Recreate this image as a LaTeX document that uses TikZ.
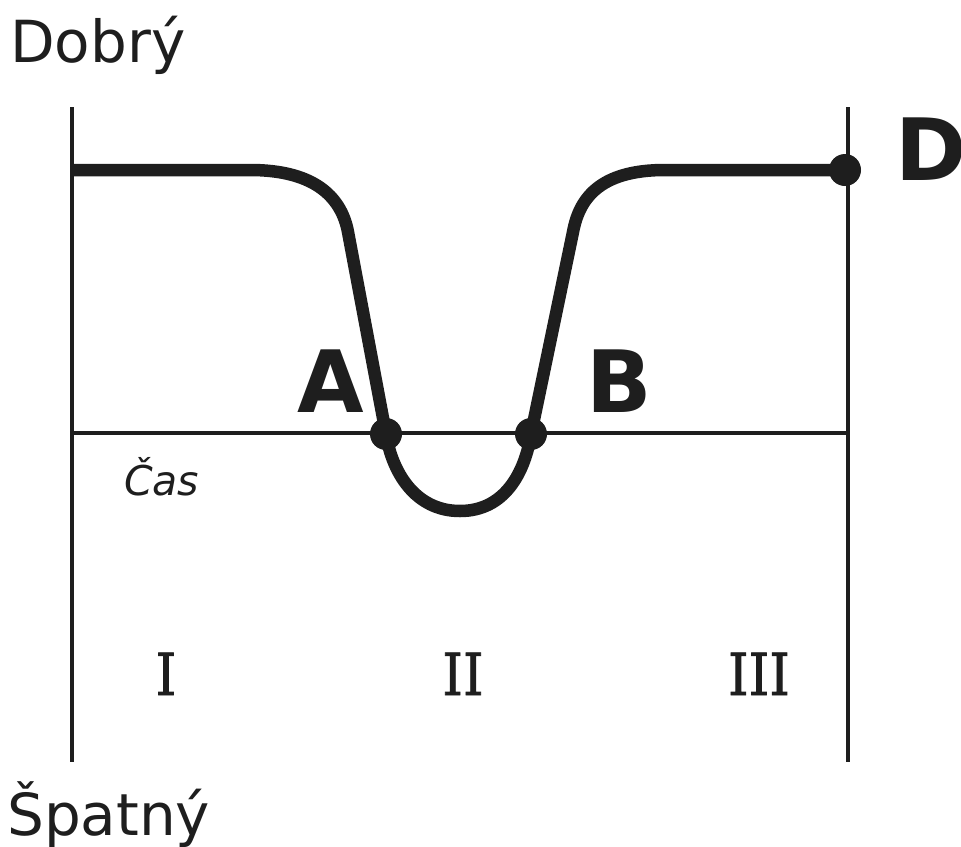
\documentclass[tikz,border=0pt]{standalone}
\usepackage{fontspec}
\setmainfont{DejaVu Sans}
\newfontfamily\numfont[FakeBold=1.2]{DejaVu Serif Condensed}
\usetikzlibrary{positioning}
\definecolor{ink}{HTML}{1E1E1E}

\begin{document}
\begin{tikzpicture}[
  x=1pt, y=-1pt,
  every node/.style={text=ink, inner sep=0pt},
  axis/.style={draw=ink, line width=4pt},
  curve/.style={draw=ink, line width=12.5pt, line join=round},
  dot/.style={circle, fill=ink, minimum size=32pt},
  side/.style={font=\fontsize{58}{60}\selectfont, anchor=base west},
  point/.style={font=\bfseries\fontsize{86}{90}\selectfont, anchor=base west},
  zone/.style={font=\numfont\fontsize{58}{60}\selectfont, anchor=base}
]
\useasboundingbox (0,0) rectangle (961,846);
% axes
\coordinate (lt) at (72,107);
\coordinate (lb) at (72,762);
\coordinate (rt) at (848,107);
\coordinate (rb) at (848,762);
\coordinate (tl) at (72,433);
\coordinate (tr) at (848,433);
\draw[axis] (lt) -- (lb);
\draw[axis] (rt) -- (rb);
\draw[axis] (tl) -- (tr);
% points
\node[dot] (a) at (386,434) {};
\node[dot] (b) at (531,434) {};
\node[dot] (d) at (845,170) {};
\coordinate (start) at (72,170);
\draw[curve] (start) -- (250,170) .. controls (318,170) and (342,200) .. (348,232)
  -- (a.center) .. controls (392,472) and (415,511) .. (460,511)
  .. controls (505,511) and (525,472) .. (b.center)
  -- (573,232) .. controls (579,200) and (598,170) .. (665,170) -- (d.center);
% labels
\node[side] (good) at (10,62) {Dobrý};
\node[side] (bad) at (7,835) {Špatný};
\node[point] (dlab) at (895,180) {D};
\node[point] (alab) at (297,412) {A};
\node[point] (blab) at (586,412) {B};
\node[font=\itshape\fontsize{41}{44}\selectfont, anchor=base west] (time) at (124,495) {Čas};
\node[zone] (z1) at (166,695) {I};
\node[zone] (z2) at (463,695) {II};
\node[zone] (z3) at (759,695) {III};
\end{tikzpicture}
\end{document}
